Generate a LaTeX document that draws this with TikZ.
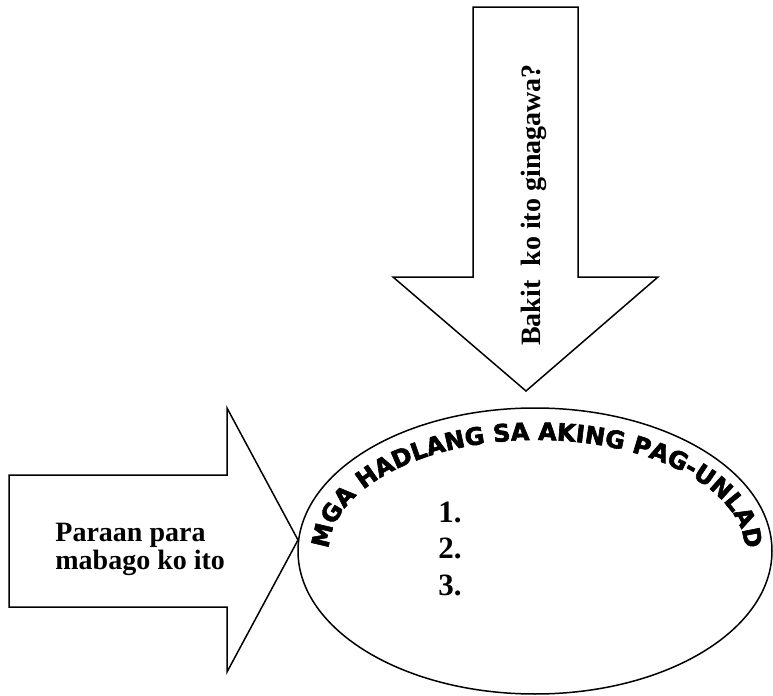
\documentclass[tikz,border=0pt]{standalone}
\usepackage{fontspec}
\setmainfont{Liberation Serif}
\newfontfamily\arcfont[FakeBold=2.5]{DejaVu Sans}
\usetikzlibrary{shapes.geometric,decorations.text}

\begin{document}
\begin{tikzpicture}[x=0.5pt,y=-0.5pt]
				\tikzstyle{every node}=[inner sep=0pt]
				\tikzstyle{arrowline}=[draw,line width=0.75pt,line join=miter]
				\tikzstyle{arrowtext}=[font=\bfseries\fontsize{14}{11.7}\selectfont]
				\tikzstyle{listnum}=[font=\bfseries\fontsize{15.5}{18}\selectfont,anchor=base west]
				\useasboundingbox (0,0) rectangle (773,696);
				% arrow from above
				\draw[arrowline] (473,7) -- (578,7) -- (578,277) -- (658,277) -- (526,391) 
					-- (393,277) -- (473,277) -- cycle;
				\node[arrowtext,rotate=90,anchor=base] (bakit) at (540,205) {Bakit\ \ ko ito ginagawa?};
				% arrow from the left
				\draw[arrowline] (9,475) -- (227,475) -- (227,408) -- (298,540) -- (227,672) 
					-- (227,607) -- (9,607) -- cycle;
				\node[arrowtext,align=left,anchor=north west] (paraan) at (55,523) {Paraan para\\mabago ko ito};
				% the ellipse
				\node[draw,ellipse,line width=0.75pt,minimum width=237pt,minimum height=143pt] (hadlang) at (535,551) {};
				\path[decorate,decoration={text along path,text align=center,
					text={|\arcfont\bfseries\fontsize{12}{12}\selectfont|MGA HADLANG SA AKING PAG-UNLAD}}] 
					([xshift=1pt]hadlang.center) ++(-208,0) arc[start angle=180,end angle=360,x radius=208,y radius=111];
				\node[listnum] (num1) at (438,522) {1.};
				\node[listnum] (num2) at (438,558) {2.};
				\node[listnum] (num3) at (438,595) {3.};
\end{tikzpicture}
\end{document}
